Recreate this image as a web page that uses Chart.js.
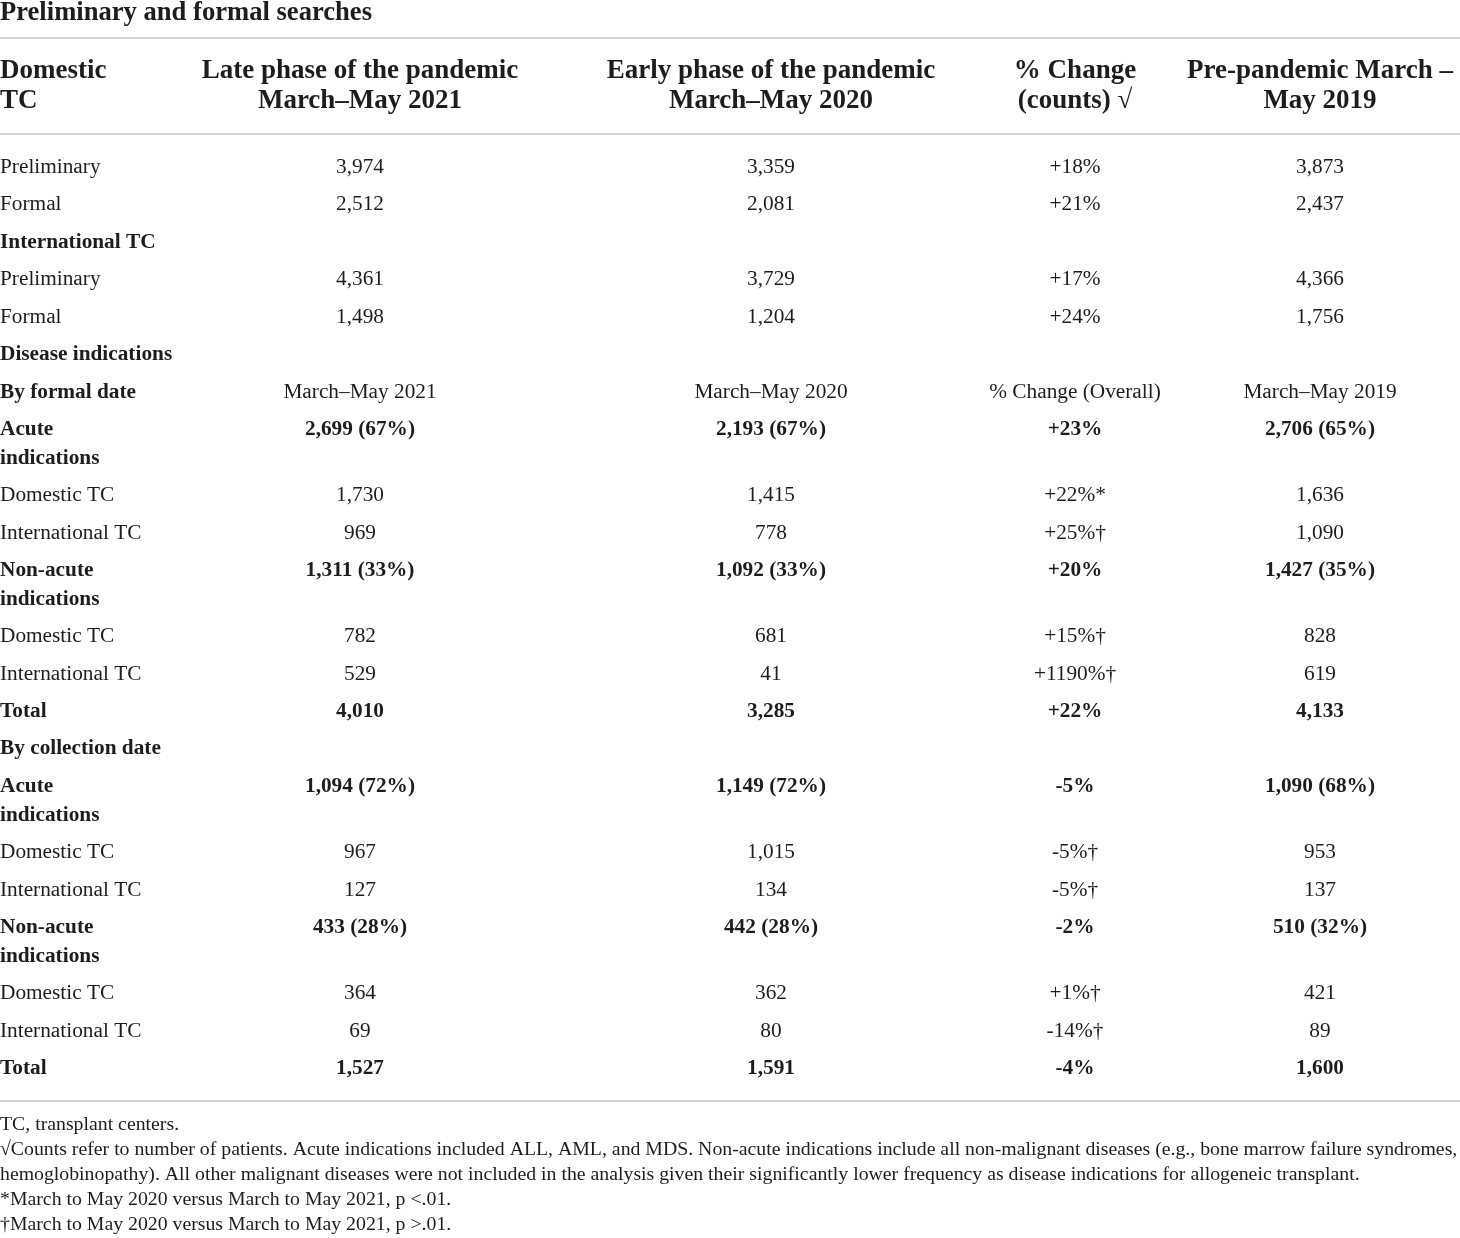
<!DOCTYPE html>
<html>
<head>
<meta charset="utf-8">
<script src="https://cdn.jsdelivr.net/npm/chart.js@4.4.1/dist/chart.umd.min.js"></script>
<style>
  html, body { margin: 0; padding: 0; background: #ffffff; }
  #wrap { width: 1460px; height: 1238px; }
</style>
</head>
<body>
<div id="wrap"><canvas id="c" width="1460" height="1238"></canvas></div>
<script>
// ---------------- DATA ----------------
const titleText = 'Preliminary and formal searches';

const headerLines = [
  ['Domestic', 'TC'],
  ['Late phase of the pandemic', 'March–May 2021'],
  ['Early phase of the pandemic', 'March–May 2020'],
  ['% Change', '(counts) √'],
  ['Pre-pandemic March –', 'May 2019']
];

const rowLabels = [
  'Preliminary', 'Formal', 'International TC', 'Preliminary', 'Formal',
  'Disease indications', 'By formal date', 'Acute\nindications', 'Domestic TC', 'International TC',
  'Non-acute\nindications', 'Domestic TC', 'International TC', 'Total',
  'By collection date', 'Acute\nindications', 'Domestic TC', 'International TC',
  'Non-acute\nindications', 'Domestic TC', 'International TC', 'Total'
];

const rowKinds = [
  'plain', 'plain', 'section', 'plain', 'plain',
  'section', 'sub', 'bold', 'plain', 'plain',
  'bold', 'plain', 'plain', 'bold',
  'section', 'bold', 'plain', 'plain',
  'bold', 'plain', 'plain', 'bold'
];

const periodLabels = ['March–May 2021', 'March–May 2020', '% Change (Overall)', 'March–May 2019'];

const late2021 = [3974, 2512, null, 4361, 1498, null, null, 2699, 1730, 969, 1311, 782, 529, 4010, null, 1094, 967, 127, 433, 364, 69, 1527];
const late2021Share = [null, null, null, null, null, null, null, 67, null, null, 33, null, null, null, null, 72, null, null, 28, null, null, null];

const early2020 = [3359, 2081, null, 3729, 1204, null, null, 2193, 1415, 778, 1092, 681, 41, 3285, null, 1149, 1015, 134, 442, 362, 80, 1591];
const early2020Share = [null, null, null, null, null, null, null, 67, null, null, 33, null, null, null, null, 72, null, null, 28, null, null, null];

const pctChange = [18, 21, null, 17, 24, null, null, 23, 22, 25, 20, 15, 1190, 22, null, -5, -5, -5, -2, 1, -14, -4];
const pctMark = ['', '', '', '', '', '', '', '', '*', '†', '', '†', '†', '', '', '', '†', '†', '', '†', '†', ''];

const pre2019 = [3873, 2437, null, 4366, 1756, null, null, 2706, 1636, 1090, 1427, 828, 619, 4133, null, 1090, 953, 137, 510, 421, 89, 1600];
const pre2019Share = [null, null, null, null, null, null, null, 65, null, null, 35, null, null, null, null, 68, null, null, 32, null, null, null];

const footnotes = [
  'TC, transplant centers.',
  '√Counts refer to number of patients. Acute indications included ALL, AML, and MDS. Non-acute indications include all non-malignant diseases (e.g., bone marrow failure syndromes,',
  'hemoglobinopathy). All other malignant diseases were not included in the analysis given their significantly lower frequency as disease indications for allogeneic transplant.',
  '*March to May 2020 versus March to May 2021, p <.01.',
  '†March to May 2020 versus March to May 2021, p >.01.'
];

// ---------------- LAYOUT / STYLE ----------------
const FONT = '"Liberation Serif", "DejaVu Serif", serif';
const TEXT = '#1f1c1d';
const RULE = '#d4d4d4';
const colPos = [0, 360 / 1460, 771 / 1460, 1075 / 1460, 1320 / 1460];
const EXTRA_LINE = 0.764;   // extra row units per wrapped line
const LINE_PX = 29;         // pixel gap between wrapped lines

// row positions in row units
const rowPos = [];
rowLabels.forEach((lab, r) => {
  if (r === 0) { rowPos.push(0); return; }
  const prevLines = rowLabels[r - 1].split('\n').length;
  rowPos.push(rowPos[r - 1] + 1 + EXTRA_LINE * (prevLines - 1));
});

const fmt = v => v.toLocaleString('en-US');
const countCell = (vals, shares, r) => vals[r] == null ? '' : fmt(vals[r]) + (shares[r] != null ? ' (' + shares[r] + '%)' : '');
const pctCell = r => pctChange[r] == null ? '' : (pctChange[r] > 0 ? '+' : '') + pctChange[r] + '%' + pctMark[r];

function cellText(c, r) {
  if (c === 0) return rowLabels[r];
  if (rowKinds[r] === 'sub') return periodLabels[c - 1];
  if (c === 1) return countCell(late2021, late2021Share, r);
  if (c === 2) return countCell(early2020, early2020Share, r);
  if (c === 3) return pctCell(r);
  return countCell(pre2019, pre2019Share, r);
}
function cellBold(c, r) {
  const k = rowKinds[r];
  if (k === 'bold') return true;
  if ((k === 'section' || k === 'sub') && c === 0) return true;
  return false;
}

const datasets = colPos.map((xp, c) => {
  const pts = [], cells = [];
  rowLabels.forEach((_, r) => {
    const t = cellText(c, r);
    if (t === '') return;
    pts.push({ x: xp, y: rowPos[r] });
    cells.push({ text: t, bold: cellBold(c, r), align: c === 0 ? 'left' : 'center' });
  });
  return { data: pts, cells: cells, pointRadius: 0, pointHoverRadius: 0, showLine: false };
});

const lastPos = rowPos[rowPos.length - 1];

const tablePlugin = {
  id: 'tableText',
  afterDatasetsDraw(chart) {
    const ctx = chart.ctx;
    const ca = chart.chartArea;
    const xs = chart.scales.x;
    ctx.save();
    ctx.textBaseline = 'middle';

    // title
    ctx.fillStyle = TEXT;
    ctx.font = 'bold 26.6px ' + FONT;
    ctx.textAlign = 'left';
    ctx.fillText(titleText, 0, 13);

    // rules
    ctx.fillStyle = RULE;
    ctx.fillRect(0, 37, chart.width, 2);
    ctx.fillRect(0, ca.top - 1, chart.width, 2);
    ctx.fillRect(0, ca.bottom - 1, chart.width, 2);

    // header
    ctx.fillStyle = TEXT;
    ctx.font = 'bold 27px ' + FONT;
    headerLines.forEach((lines, c) => {
      const x = xs.getPixelForValue(colPos[c]);
      ctx.textAlign = c === 0 ? 'left' : 'center';
      lines.forEach((t, i) => ctx.fillText(t, x, ca.top - 63 + 30 * i));
    });

    // body cells
    chart.data.datasets.forEach((ds, di) => {
      const meta = chart.getDatasetMeta(di);
      meta.data.forEach((pt, i) => {
        const cell = ds.cells[i];
        ctx.font = (cell.bold ? 'bold ' : '') + '21.3px ' + FONT;
        ctx.textAlign = cell.align;
        cell.text.split('\n').forEach((t, li) => ctx.fillText(t, pt.x, pt.y + li * LINE_PX));
      });
    });

    // footnotes
    ctx.font = '19.8px ' + FONT;
    ctx.textAlign = 'left';
    footnotes.forEach((t, i) => ctx.fillText(t, 0, ca.bottom + 24 + 25 * i, chart.width - 2));
    ctx.restore();
  }
};

new Chart(document.getElementById('c'), {
  type: 'scatter',
  data: { datasets: datasets },
  options: {
    responsive: false,
    animation: false,
    events: [],
    layout: { padding: { top: 134, bottom: 137, left: 0, right: 0 } },
    plugins: { legend: { display: false }, tooltip: { enabled: false }, title: { display: false } },
    scales: {
      x: { type: 'linear', display: false, min: 0, max: 1 },
      y: { type: 'linear', display: false, reverse: true, min: -0.89, max: lastPos + 0.87 }
    }
  },
  plugins: [tablePlugin]
});
</script>
</body>
</html>
